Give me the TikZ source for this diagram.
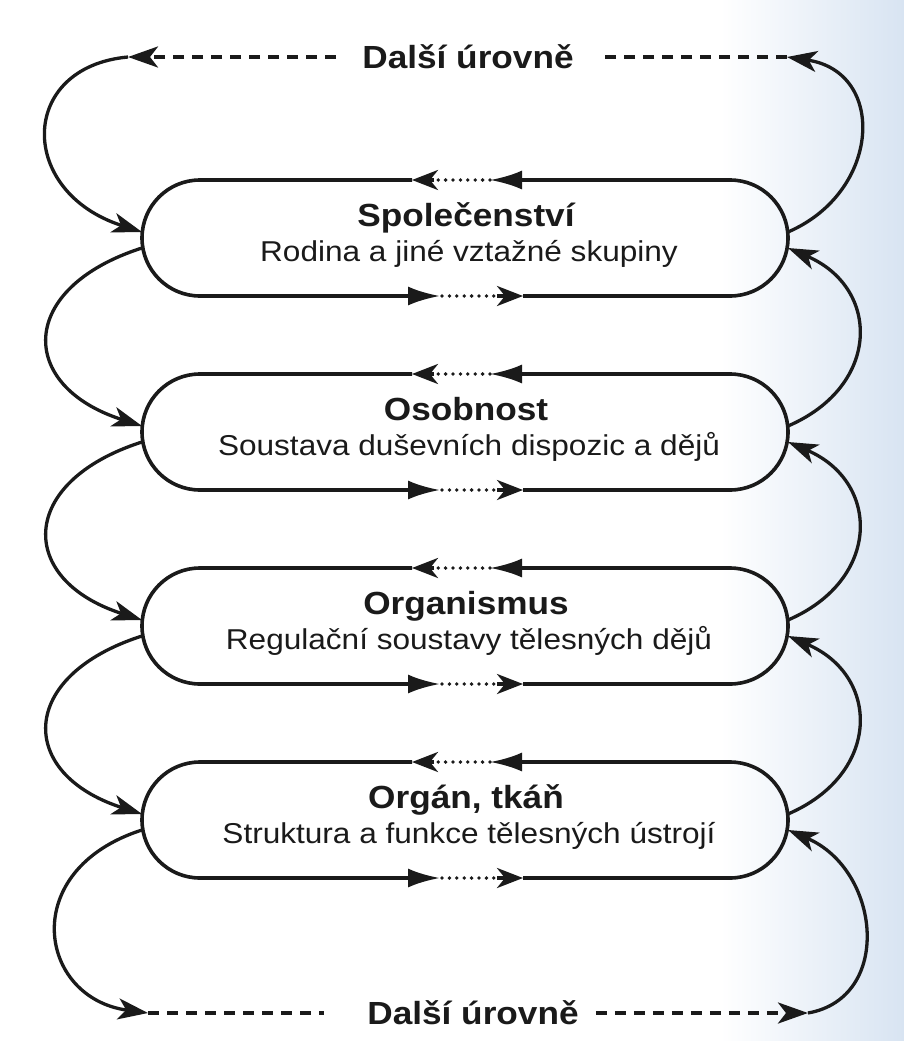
\documentclass[tikz,border=0pt]{standalone}
\usepackage{fontspec}
\setmainfont{Liberation Sans}
\usepackage{graphicx}
\usetikzlibrary{arrows.meta,calc}
\definecolor{ink}{HTML}{1A1A1A}
\definecolor{scan}{HTML}{D8E4F2}
\newcommand\stretchx[1]{\scalebox{1.1}[1]{#1}}
\tikzset{
  outline/.style={draw=ink, line width=3.6pt},
  link/.style={draw=ink, line width=3.3pt},
  dashline/.style={draw=ink, line width=3.8pt, dash pattern=on 11pt off 8pt},
  dotline/.style={draw=ink, line width=3.8pt, line cap=round, dash pattern=on 0pt off 7.4pt},
  ttl/.style={font=\bfseries\fontsize{32}{32}\selectfont, text=ink, inner sep=0pt, anchor=base},
  sub/.style={font=\fontsize{28.7}{28.7}\selectfont, text=ink, inner sep=0pt, anchor=base},
  edge title/.style={font=\bfseries\fontsize{32}{32}\selectfont, text=ink, inner sep=0pt, anchor=center, text height=23pt, text depth=0pt},
  arrivetip/.tip={Latex[length=32pt,width=19pt]},
  departtip/.tip={Stealth[length=26pt,width=20pt,inset=8pt]},
  ctip/.tip={Stealth[length=30pt,width=20pt,inset=8pt]},
  dtip/.tip={Stealth[length=30pt,width=21pt,inset=8pt]},
}
\newcommand\mylevel[4]{%
  \coordinate (#1-lu) at (142,#2-6);
  \coordinate (#1-ll) at (142,#2+10);
  \coordinate (#1-ru) at (788,#2-6);
  \coordinate (#1-rl) at (788,#2+10);
  \draw[outline,-{arrivetip}] (412,#2-58) -- (200,#2-58) arc[start angle=270,end angle=90,radius=58] -- (440,#2+58);
  \draw[outline,-{arrivetip}] (523,#2+58) -- (730,#2+58) arc[start angle=90,end angle=-90,radius=58] -- (490,#2-58);
  \draw[outline,-{departtip}] (434,#2-58) -- (412,#2-58);
  \draw[outline,-{departtip}] (497,#2+58) -- (523,#2+58);
  \draw[dotline] (490,#2-58) -- (436,#2-58);
  \draw[dotline] (442,#2+58) -- (496,#2+58);
  \node[ttl] (#1-t) at (466,#2-12) {\stretchx{#3}};
  \node[sub] (#1-s) at (469,#2+23) {\stretchx{#4}};
}
\begin{document}
\begin{tikzpicture}[x=1pt,y=-1pt]
\useasboundingbox (0,0) rectangle (904,1041);
\fill[white] (0,0) rectangle (904,1041);
\shade[left color=white, right color=scan] (720,0) rectangle (904,1041);

\mylevel{spol}{238}{Společenství}{Rodina a jiné vztažné skupiny}
\mylevel{osob}{432}{Osobnost}{Soustava duševních dispozic a dějů}
\mylevel{orgs}{626}{Organismus}{Regulační soustavy tělesných dějů}
\mylevel{orgn}{820}{Orgán, tkáň}{Struktura a funkce tělesných ústrojí}

\node[edge title] (top) at (468,57) {\stretchx{Další úrovně}};
\node[edge title] (bot) at (473,1013) {\stretchx{Další úrovně}};
\coordinate (topL) at (128,57);
\coordinate (topR) at (787,57);
\coordinate (botL) at (148,1013);
\coordinate (botR) at (808,1013);

% dashed lines
\draw[dashline,-{dtip}] ([xshift=-26pt]top.west) -- (topL);
\draw[dashline] (topR) -- ([xshift=31pt]top.east);
\draw[dashline] (botL) -- ([xshift=-43pt]bot.west);
\draw[dashline,-{dtip}] ([xshift=17pt]bot.east) -- (botR);

% left side (downwards)
\draw[link,-{ctip}] (topL) .. controls +(-110,10) and +(-125,-40) .. (spol-lu);
\draw[link,-{ctip}] (spol-ll) .. controls +(-125,40) and +(-125,-40) .. (osob-lu);
\draw[link,-{ctip}] (osob-ll) .. controls +(-125,40) and +(-125,-40) .. (orgs-lu);
\draw[link,-{ctip}] (orgs-ll) .. controls +(-125,40) and +(-125,-40) .. (orgn-lu);
\draw[link,-{dtip}] (orgn-ll) .. controls +(-125,40) and +(-110,-15) .. (botL);

% right side (upwards)
\draw[link,-{ctip}] (botR) .. controls +(85,-15) and +(93,40) .. (orgn-rl);
\draw[link,-{ctip}] (orgn-ru) .. controls +(93,-40) and +(93,40) .. (orgs-rl);
\draw[link,-{ctip}] (orgs-ru) .. controls +(93,-40) and +(93,40) .. (osob-rl);
\draw[link,-{ctip}] (osob-ru) .. controls +(93,-40) and +(93,40) .. (spol-rl);
\draw[link,-{dtip}] (spol-ru) .. controls +(93,-40) and +(100,15) .. (topR);
\end{tikzpicture}
\end{document}
